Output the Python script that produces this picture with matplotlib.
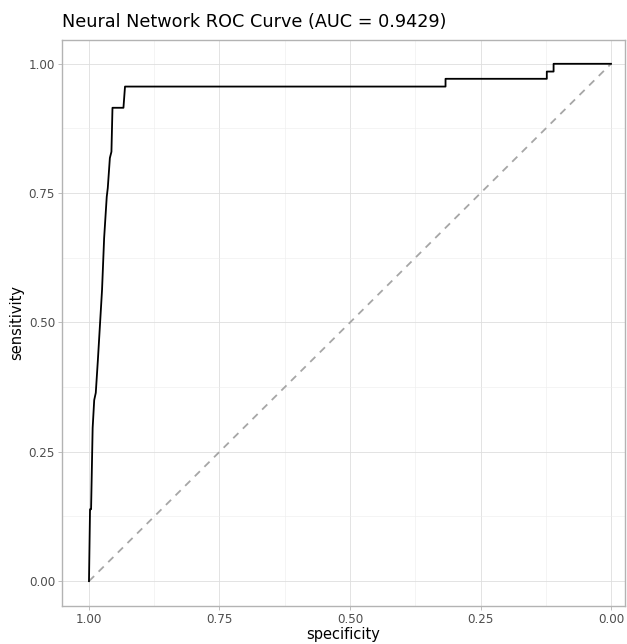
import matplotlib
matplotlib.use("Agg")
import matplotlib.pyplot as plt
import numpy as np

# ROC curve vertices
specificity = [1.000, 0.998, 0.996, 0.993, 0.990, 0.987, 0.983, 0.975, 0.971,
               0.966, 0.964, 0.960, 0.957, 0.955, 0.934, 0.931, 0.317, 0.317,
               0.123, 0.123, 0.110, 0.110, 0.000]
sensitivity = [0.000, 0.139, 0.139, 0.296, 0.350, 0.364, 0.427, 0.563, 0.663,
               0.743, 0.760, 0.818, 0.830, 0.915, 0.915, 0.956, 0.956, 0.971,
               0.971, 0.985, 0.985, 1.000, 1.000]
ref_line = [1.0, 0.0]
ticks = [0.0, 0.25, 0.5, 0.75, 1.0]
tick_labels = ["0.00", "0.25", "0.50", "0.75", "1.00"]
minor_ticks = [0.125, 0.375, 0.625, 0.875]
title = "Neural Network ROC Curve (AUC = 0.9429)"

W, H = 627, 644
fig = plt.figure(figsize=(W / 100, H / 100), dpi=100)
left, right, top, bottom = 62, 625, 40, 606
ax = fig.add_axes([left / W, (H - bottom) / H, (right - left) / W, (bottom - top) / H])

ax.set_xlim(1.0517, -0.0268)
ax.set_ylim(-0.048, 1.046)

ax.set_xticks(ticks)
ax.set_xticklabels(tick_labels)
ax.set_yticks(ticks)
ax.set_yticklabels(tick_labels)
ax.set_xticks(minor_ticks, minor=True)
ax.set_yticks(minor_ticks, minor=True)

ax.grid(True, which="major", color="#DEDEDE", linewidth=0.6)
ax.grid(True, which="minor", color="#EDEDED", linewidth=0.4)
ax.set_axisbelow(True)
ax.tick_params(which="minor", length=0)
ax.tick_params(which="major", length=3, width=0.6, color="#B3B3B3",
               labelsize=8.6, labelcolor="#4D4D4D", pad=2)
for s in ax.spines.values():
    s.set_color("#B3B3B3")
    s.set_linewidth(1.0)

ax.plot(ref_line, [0.0, 1.0], color="#A6A6A6", linestyle=(0, (4, 3.5)), linewidth=1.3)
ax.plot(specificity, sensitivity, color="black", linewidth=1.3)

ax.set_xlabel("specificity", fontsize=10.5, color="black", labelpad=1)
ax.set_ylabel("sensitivity", fontsize=10.5, color="black", labelpad=3)
fig.text(left / W, 1 - 22 / H, title, fontsize=12.7, ha="left", va="center")

fig.savefig("out.png", dpi=100)
